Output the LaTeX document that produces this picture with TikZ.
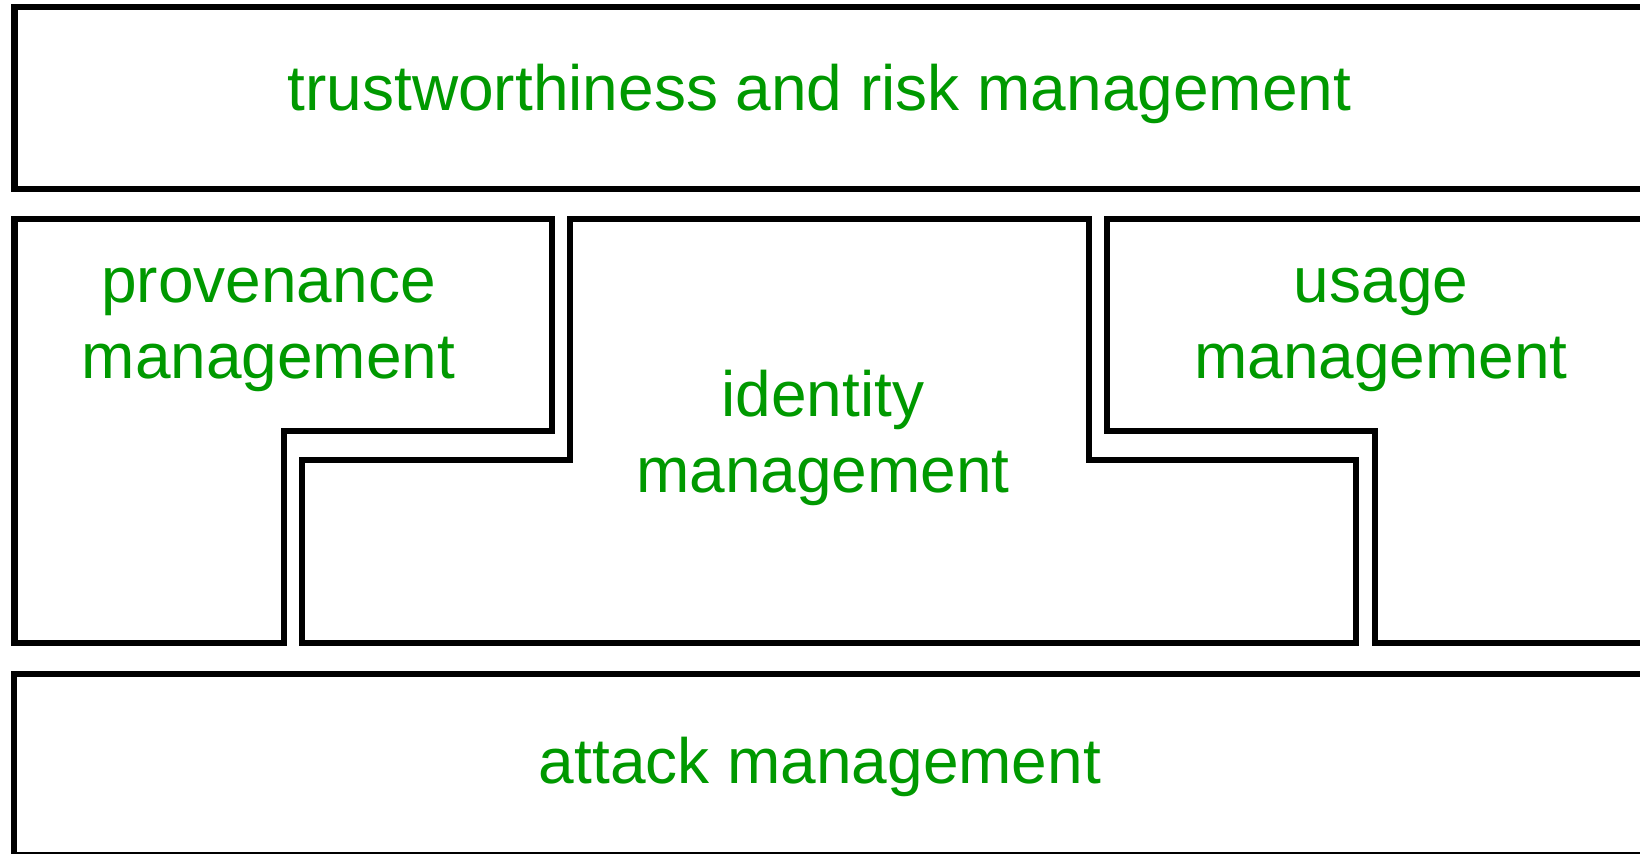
\documentclass[tikz,border=0pt]{standalone}
\usepackage{fontspec}
\setmainfont{Liberation Sans}
\definecolor{labelgreen}{RGB}{0,153,0}
\tikzset{
  layer/.style={draw=black, line width=0.06cm, line join=miter, fill=none},
  lbl/.style={text=labelgreen, font=\fontsize{18.2pt}{21.5pt}\selectfont, align=center, anchor=base, inner sep=0pt}
}
\begin{document}
\begin{tikzpicture}[x=0.01cm, y=-0.01cm]
\useasboundingbox (0,0) rectangle (1640,853);
\fill[white] (0,0) rectangle (1640,853);
\clip (0,0) rectangle (1640,853);
% top layer
\draw[layer] (14.5,7) rectangle (1700,188.5);
\node[lbl] (trust) at (819.5,110.5) {trustworthiness and risk management};
% provenance
\draw[layer] (14.5,218.5) -- (552,218.5) -- (552,430.5) -- (283.5,430.5) -- (283.5,642.5) -- (14.5,642.5) -- cycle;
\node[lbl] (prov) at (268.5,378.5) {provenance\\management};
% identity
\draw[layer] (569.5,218.5) -- (1088.5,218.5) -- (1088.5,460) -- (1356,460) -- (1356,642.5) -- (301.5,642.5) -- (301.5,460) -- (569.5,460) -- cycle;
\node[lbl] (ident) at (823,492.5) {identity\\management};
% usage
\draw[layer] (1700,218.5) -- (1106.5,218.5) -- (1106.5,430.5) -- (1374.5,430.5) -- (1374.5,642.5) -- (1700,642.5);
\node[lbl] (usage) at (1381,378.5) {usage\\management};
% attack
\draw[layer] (14,673.5) rectangle (1700,855);
\node[lbl] (attack) at (820,783.5) {attack management};
\end{tikzpicture}
\end{document}
